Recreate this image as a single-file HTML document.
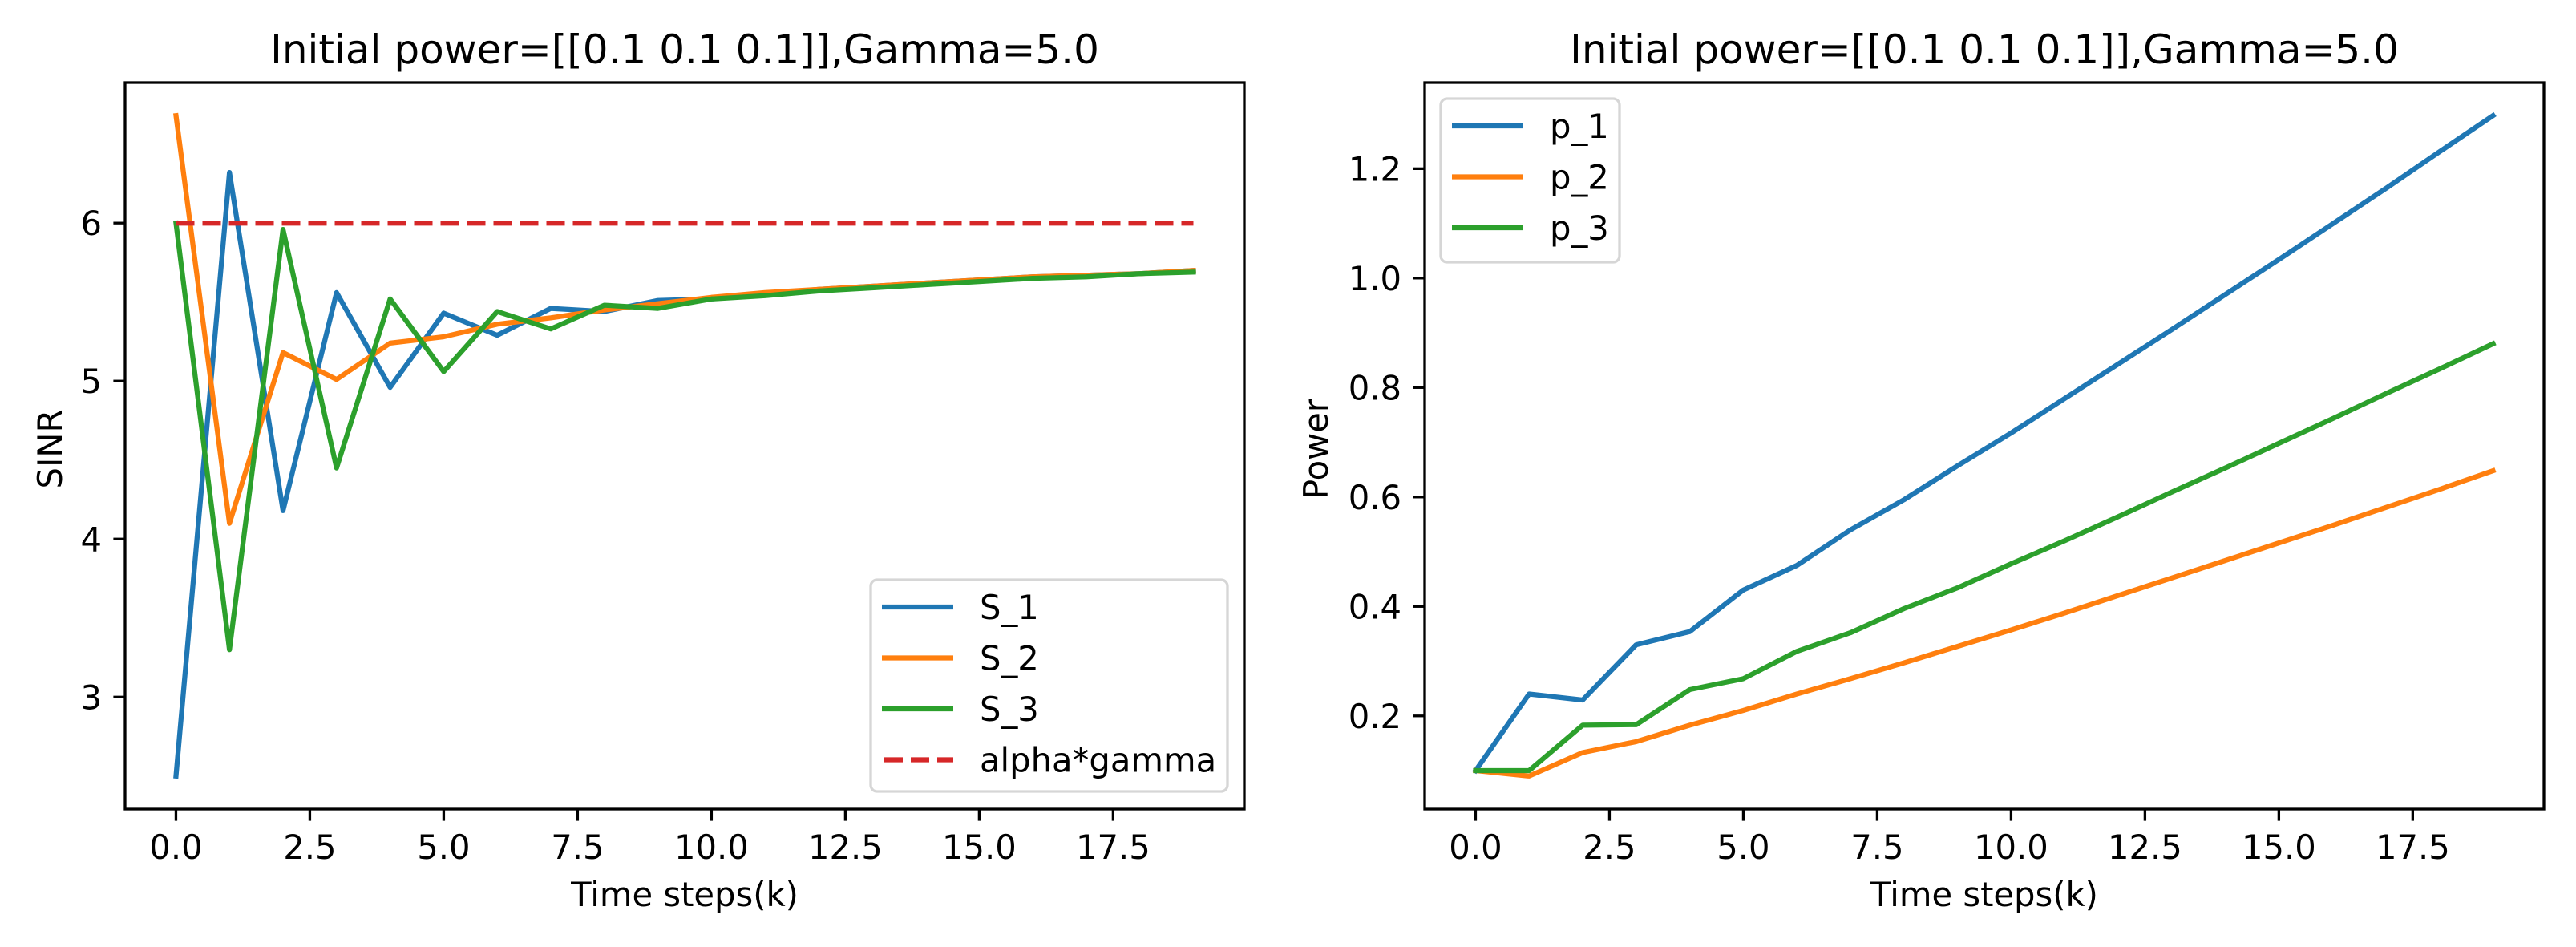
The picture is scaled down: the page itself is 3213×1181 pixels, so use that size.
<!DOCTYPE html>
<html><head><meta charset="utf-8"><style>
html,body{margin:0;padding:0;background:#fff;}
svg{display:block;font-family:"DejaVu Sans","Liberation Sans",sans-serif;}
</style></head><body>
<svg id="fig" width="3213" height="1181" viewBox="0 0 3213 1181" xmlns="http://www.w3.org/2000/svg"></svg>
<script>
const steps = [0,1,2,3,4,5,6,7,8,9,10,11,12,13,14,15,16,17,18,19];
const s1 = [2.5,6.32,4.18,5.56,4.96,5.43,5.29,5.46,5.44,5.51,5.52,5.55,5.58,5.60,5.62,5.64,5.66,5.67,5.68,5.70];
const s2 = [6.68,4.10,5.18,5.01,5.24,5.28,5.36,5.40,5.45,5.49,5.53,5.56,5.58,5.60,5.62,5.64,5.66,5.67,5.68,5.70];
const s3 = [6.0,3.30,5.96,4.45,5.52,5.06,5.44,5.33,5.48,5.46,5.52,5.54,5.57,5.59,5.61,5.63,5.65,5.66,5.68,5.69];
const target = [6.0,6.0];
const p1 = [0.1,0.24,0.229,0.33,0.354,0.43,0.475,0.54,0.595,0.657,0.717,0.78,0.843,0.906,0.97,1.034,1.099,1.164,1.231,1.297];
const p2 = [0.1,0.09,0.133,0.153,0.183,0.21,0.24,0.268,0.297,0.327,0.357,0.388,0.42,0.452,0.484,0.516,0.548,0.581,0.614,0.648];
const p3 = [0.1,0.1,0.183,0.184,0.248,0.268,0.318,0.352,0.396,0.434,0.478,0.52,0.564,0.609,0.653,0.698,0.743,0.789,0.834,0.880];
const xTicks = [0,2.5,5,7.5,10,12.5,15,17.5];
const xTickLabels = ["0.0","2.5","5.0","7.5","10.0","12.5","15.0","17.5"];
const yTicksL = [3,4,5,6];
const yTickLabelsL = ["3","4","5","6"];
const yTicksR = [0.2,0.4,0.6,0.8,1.0,1.2];
const yTickLabelsR = ["0.2","0.4","0.6","0.8","1.0","1.2"];
const titleText = "Initial power=[[0.1 0.1 0.1]],Gamma=5.0";

const NS = "http://www.w3.org/2000/svg";
const svg = document.getElementById('fig');
function mk(tag, attrs, parent){
  const e = document.createElementNS(NS, tag);
  for (const k in attrs) e.setAttribute(k, attrs[k]);
  (parent||svg).appendChild(e);
  return e;
}
const C = {b:'#1f77b4', o:'#ff7f0e', g:'#2ca02c', r:'#d62728'};
const TOP = 103, BOT = 1009;

function axes(cfg){
  const g = mk('g', {});
  
  
  const L = cfg.left, R = cfg.left + 1396;
  const dxmin = -0.95, dxmax = 19.95;
  const X = u => L + (u - dxmin) / (dxmax - dxmin) * (R - L);
  const Y = v => BOT - (v - cfg.ymin) / (cfg.ymax - cfg.ymin) * (BOT - TOP);
  cfg.series.forEach(s => {
    const d = s.vals.map((v,i) => (i? 'L':'M') + X(s.xs ? s.xs[i] : steps[i]).toFixed(1) + ',' + Y(v).toFixed(1)).join(' ');
    const p = mk('path', {d:d, fill:'none', stroke:s.color, 'stroke-width':6.25, 'stroke-linejoin':'round', 'stroke-linecap': s.dash ? 'butt':'square'}, g);
    if (s.dash) p.setAttribute('stroke-dasharray', '23 10');
    
    
  });
  const fr = mk('rect', {x:L, y:TOP, width:R-L, height:BOT-TOP, fill:'none', stroke:'#000', 'stroke-width':3.3}, g);
  
  
  xTicks.forEach((t,i) => {
    mk('line', {x1:X(t), x2:X(t), y1:BOT, y2:BOT+14.6, stroke:'#000', 'stroke-width':3.3}, g);
    const tx = mk('text', {x:X(t), y:1071, 'font-size':41.7, 'text-anchor':'middle', fill:'#000'}, g);
    tx.textContent = xTickLabels[i];
    
    
  });
  cfg.yticks.forEach((t,i) => {
    mk('line', {x1:L-14.6, x2:L, y1:Y(t), y2:Y(t), stroke:'#000', 'stroke-width':3.3}, g);
    const ty = mk('text', {x:L-29, y:Y(t)+15, 'font-size':41.7, 'text-anchor':'end', fill:'#000'}, g);
    ty.textContent = cfg.ylabels[i];
    
    
  });
  const xl = mk('text', {x:(L+R)/2, y:1130, 'font-size':41.7, 'text-anchor':'middle', fill:'#000'}, g);
  xl.textContent = 'Time steps(k)';
  
  
  const yl = mk('text', {x:0, y:0, 'font-size':41.7, 'text-anchor':'middle', fill:'#000', transform:`translate(${cfg.ylabX},560) rotate(-90)`}, g);
  yl.textContent = cfg.ylabel;
  
  
  const tt = mk('text', {x:(L+R)/2, y:79, 'font-size':50, 'text-anchor':'middle', fill:'#000'}, g);
  tt.textContent = titleText;
  
  
  const lg = mk('g', {}, g);
  
  
  const lb = cfg.legend;
  mk('rect', {x:lb.x, y:lb.y, width:lb.w, height:lb.h, rx:8, fill:'#fff', 'fill-opacity':0.8, stroke:'#d6d6d6', 'stroke-width':3.3}, lg);
  cfg.series.forEach((s,i) => {
    const ry = lb.y + 34 + i*63.5;
    const e = mk('g', {}, lg);
    
    
    const ln = mk('line', {x1:lb.x+14, x2:lb.x+103, y1:ry, y2:ry, stroke:s.color, 'stroke-width':6.25}, e);
    if (s.dash) { ln.setAttribute('stroke-dasharray','23 10'); ln.setAttribute('x1', lb.x+17); }
    const t = mk('text', {x:lb.x+136, y:ry+15, 'font-size':41.7, fill:'#000'}, e);
    t.textContent = s.label;
  });
}

axes({name:'sinr-chart', left:156, ymin:2.291, ymax:6.889, ylabel:'SINR', ylabX:77,
  yticks:yTicksL, ylabels:yTickLabelsL,
  legend:{x:1086, y:723, w:445, h:264},
  series:[
    {name:'s1', label:'S_1', vals:s1, color:C.b},
    {name:'s2', label:'S_2', vals:s2, color:C.o},
    {name:'s3', label:'S_3', vals:s3, color:C.g},
    {name:'alpha-gamma', label:'alpha*gamma', vals:target, xs:[0,19], color:C.r, dash:true}
  ]});
axes({name:'power-chart', left:1777, ymin:0.0297, ymax:1.3573, ylabel:'Power', ylabX:1656,
  yticks:yTicksR, ylabels:yTickLabelsR,
  legend:{x:1797, y:123, w:223, h:204},
  series:[
    {name:'p1', label:'p_1', vals:p1, color:C.b},
    {name:'p2', label:'p_2', vals:p2, color:C.o},
    {name:'p3', label:'p_3', vals:p3, color:C.g}
  ]});
</script>
</body></html>
